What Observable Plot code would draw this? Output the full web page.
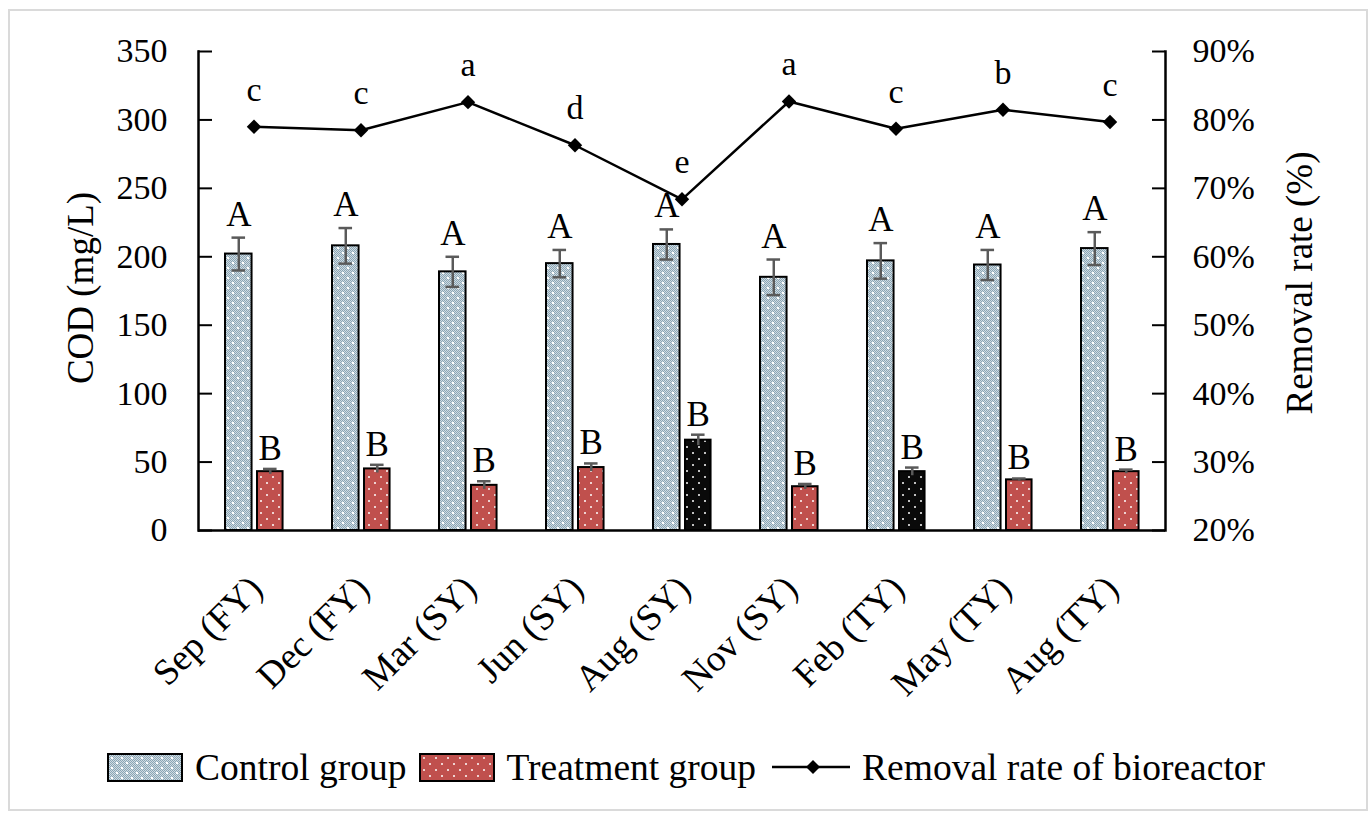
<!DOCTYPE html>
<html>
<head>
<meta charset="utf-8">
<script src="https://cdn.jsdelivr.net/npm/d3@7"></script>
<script src="https://cdn.jsdelivr.net/npm/@observablehq/plot@0.6"></script>
<style>
  body { margin: 0; background: #fff; font-family: "Liberation Serif", "Times New Roman", serif; }
  #wrap { position: relative; width: 1371px; height: 819px; overflow: hidden; background: #fff; }
  #border { position: absolute; left: 8px; top: 9px; width: 1356px; height: 798px; border: 2px solid #dadada; }
  #chart { position: absolute; left: 0; top: 0; }
  #legend { position: absolute; left: 107px; top: 741px; height: 52px; display: flex; align-items: center;
            font-size: 37.5px; color: #000; white-space: nowrap; }
  #legend .sw { width: 72px; height: 25px; border: 2px solid #000; box-sizing: content-box; }
  #legend svg { display: block; }
</style>
</head>
<body>
<div id="wrap">
  <svg width="0" height="0" style="position:absolute">
    <defs>
      <pattern id="chk" width="2" height="2" patternUnits="userSpaceOnUse">
        <rect width="2" height="2" fill="#d0dce3"></rect>
        <rect width="1" height="1" fill="#8ba5b4"></rect>
        <rect x="1" y="1" width="1" height="1" fill="#8ba5b4"></rect>
      </pattern>
      <pattern id="patCtrl" width="10" height="10" patternUnits="userSpaceOnUse">
        <rect width="10" height="10" fill="url(#chk)"></rect>
        <rect x="2" y="2" width="2" height="2" fill="#ffffff"></rect>
        <rect x="7" y="7" width="2" height="2" fill="#ffffff"></rect>
      </pattern>
      <pattern id="patRed" width="12" height="12" patternUnits="userSpaceOnUse">
        <rect width="12" height="12" fill="#c0504d"></rect>
        <circle cx="3" cy="3" r="1" fill="#ffffff"></circle>
        <circle cx="9" cy="9" r="1" fill="#ffffff"></circle>
      </pattern>
      <pattern id="patBlack" width="12" height="12" patternUnits="userSpaceOnUse">
        <rect width="12" height="12" fill="#0a0a0a"></rect>
        <circle cx="3" cy="3" r="1" fill="#ffffff"></circle>
        <circle cx="9" cy="9" r="1" fill="#ffffff"></circle>
      </pattern>
    </defs>
  </svg>
  <div id="border"></div>
  <div id="chart"></div>
  <div id="legend">
    <div class="sw"><svg width="72" height="25"><rect width="72" height="25" fill="url(#patCtrl)"></rect></svg></div>
    <span style="margin-left:12px">Control group</span>
    <div class="sw" style="margin-left:13px"><svg width="72" height="25"><rect width="72" height="25" fill="url(#patRed)"></rect></svg></div>
    <span style="margin-left:11px">Treatment group</span>
    <svg width="78" height="20" style="margin-left:16px"><line x1="0" y1="10" x2="78" y2="10" stroke="#000" stroke-width="2.5"></line><polygon points="41,3 48,10 41,17 34,10" fill="#000"></polygon></svg>
    <span style="margin-left:12px">Removal rate of bioreactor</span>
  </div>
</div>
<script>
// ---- data ----
const months = ["Sep (FY)", "Dec (FY)", "Mar (SY)", "Jun (SY)", "Aug (SY)", "Nov (SY)", "Feb (TY)", "May (TY)", "Aug (TY)"];
const control = [202, 208, 189, 195, 209, 185, 197, 194, 206];
const controlErr = [12, 13, 11, 10, 11, 13, 13, 11, 12];
const treatment = [43, 45, 33, 46, 66, 32, 43, 37, 43];
const treatmentErr = [2, 3, 3, 3, 4, 2, 3, 1, 1.5];
const removalRate = [79.0, 78.5, 82.6, 76.3, 68.4, 82.7, 78.7, 81.5, 79.7];
const rateLetters = ["c", "c", "a", "d", "e", "a", "c", "b", "c"];
const controlLetters = ["A", "A", "A", "A", "A", "A", "A", "A", "A"];
const treatmentLetters = ["B", "B", "B", "B", "B", "B", "B", "B", "B"];
const darkMonths = ["Aug (SY)", "Feb (TY)"];
const codTicks = [0, 50, 100, 150, 200, 250, 300, 350];
const rateTicks = [20, 30, 40, 50, 60, 70, 80, 90];

// ---- build ----
const rows = months.map((m, i) => ({
  month: m, control: control[i], cErr: controlErr[i], treat: treatment[i], tErr: treatmentErr[i],
  rate: removalRate[i], rl: rateLetters[i], cl: controlLetters[i], tl: treatmentLetters[i],
  dark: darkMonths.includes(m)
}));
// right axis (20%..90%) mapped onto left axis (0..350)
const toY = r => (r - 20) * 5;

const W = 1371, ML = 198, MR = 206;
const plotW = W - ML - MR;
const bw = plotW / 9;
const cIL = 25, cIR = bw - 25 - 27;      // control bar insets
const tIL = 57, tIR = bw - 57 - 26;      // treatment bar insets
const cCenter = cIL + 13.5 - bw / 2;     // offset of control bar center
const tCenter = tIL + 13 - bw / 2;
const cap = 7;
const errColor = "#5a5a5a";

const chart = Plot.plot({
  width: W, height: 730,
  marginLeft: ML, marginRight: MR, marginTop: 51, marginBottom: 200,
  style: { fontFamily: '"Liberation Serif", "Times New Roman", serif', fontSize: "34px", color: "#000", background: "transparent", overflow: "visible" },
  x: { domain: months, type: "band", padding: 0, label: null },
  y: { domain: [0, 350], label: null },
  marks: [
    Plot.barY(rows, { x: "month", y: "control", fill: "url(#patCtrl)", stroke: "#000", strokeWidth: 2, insetLeft: cIL, insetRight: cIR }),
    Plot.barY(rows.filter(d => !d.dark), { x: "month", y: "treat", fill: "url(#patRed)", stroke: "#000", strokeWidth: 2, insetLeft: tIL, insetRight: tIR }),
    Plot.barY(rows.filter(d => d.dark), { x: "month", y: "treat", fill: "url(#patBlack)", stroke: "#000", strokeWidth: 2, insetLeft: tIL, insetRight: tIR }),
    // error bars
    Plot.ruleX(rows, { x: "month", y1: d => d.control - d.cErr, y2: d => d.control + d.cErr, dx: cCenter, stroke: errColor, strokeWidth: 2.5 }),
    Plot.tickY(rows, { x: "month", y: d => d.control + d.cErr, insetLeft: cIL + 13.5 - cap, insetRight: cIR + 13.5 - cap, stroke: errColor, strokeWidth: 2.5 }),
    Plot.tickY(rows, { x: "month", y: d => d.control - d.cErr, insetLeft: cIL + 13.5 - cap, insetRight: cIR + 13.5 - cap, stroke: errColor, strokeWidth: 2.5 }),
    Plot.ruleX(rows, { x: "month", y1: d => d.treat - d.tErr, y2: d => d.treat + d.tErr, dx: tCenter, stroke: errColor, strokeWidth: 2.5 }),
    Plot.tickY(rows, { x: "month", y: d => d.treat + d.tErr, insetLeft: tIL + 13 - cap, insetRight: tIR + 13 - cap, stroke: errColor, strokeWidth: 2.5 }),
    // significance letters
    Plot.text(rows, { x: "month", y: d => d.control + d.cErr, text: "cl", dx: cCenter, dy: -12, lineAnchor: "bottom", fontSize: 35 }),
    Plot.text(rows, { x: "month", y: d => d.treat + d.tErr, text: "tl", dx: tCenter, dy: -9, lineAnchor: "bottom", fontSize: 35 }),
    // removal rate line
    Plot.line(rows, { x: "month", y: d => toY(d.rate), stroke: "#000", strokeWidth: 2.5 }),
    Plot.dot(rows, { x: "month", y: d => toY(d.rate), symbol: "diamond2", r: 6.5, fill: "#000", stroke: null }),
    Plot.text(rows, { x: "month", y: d => toY(d.rate), text: "rl", dy: -37, lineAnchor: "middle", fontSize: 34 }),
    // axes
    Plot.axisY(codTicks, { anchor: "left", tickSize: 0, tickPadding: 31, fontSize: 34, label: null }),
    Plot.tickY(codTicks, { y: d => d, insetRight: plotW - 14, stroke: "#000", strokeWidth: 2 }),
    Plot.axisY(rateTicks.map(toY), { anchor: "right", tickSize: 0, tickPadding: 27, fontSize: 34, label: null, tickFormat: d => `${d / 5 + 20}%` }),
    Plot.tickY(rateTicks.map(toY), { y: d => d, insetLeft: plotW - 13, stroke: "#000", strokeWidth: 2 }),
    Plot.axisX({ tickSize: 0, tickRotate: -45, tickPadding: 52, dx: 2, fontSize: 37, label: null }),
    Plot.frame({ anchor: "left", stroke: "#000", strokeWidth: 2.5 }),
    Plot.frame({ anchor: "right", stroke: "#000", strokeWidth: 2.5 }),
    Plot.ruleY([0], { stroke: "#000", strokeWidth: 2.5 }),
    // axis titles
    Plot.text(["COD (mg/L)"], { frameAnchor: "left", dx: -117, dy: -3, rotate: -90, fontSize: 37, textAnchor: "middle", text: d => d }),
    Plot.text(["Removal rate (%)"], { frameAnchor: "right", dx: 135, dy: -8, rotate: -90, fontSize: 37, textAnchor: "middle", text: d => d })
  ]
});
document.getElementById("chart").appendChild(chart);
</script>
</body>
</html>
